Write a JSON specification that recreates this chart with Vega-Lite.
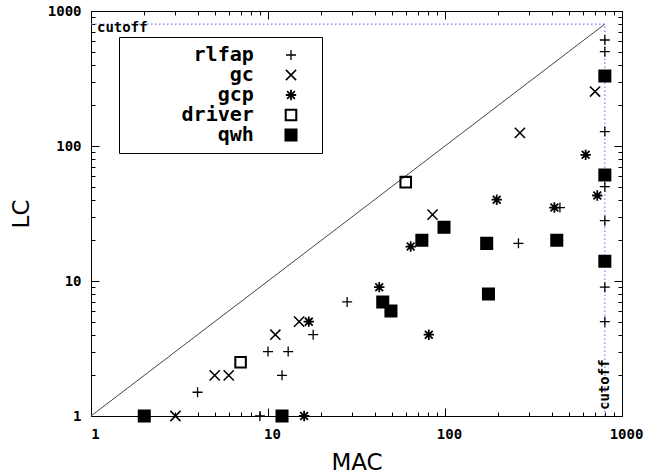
{
  "$schema": "https://vega.github.io/schema/vega-lite/v6.json",
  "autosize": {"type": "none"},
  "padding": {"left": 91, "top": 11, "right": 25, "bottom": 60},
  "width": 531,
  "height": 405,
  "background": "white",
  "config": {
    "view": {"stroke": "black", "strokeWidth": 1},
    "axis": {
      "grid": false, "domain": false, "tickColor": "black", "tickWidth": 1,
      "labelFont": "DejaVu Sans Mono", "labelFontWeight": "bold", "labelFontSize": 14, "labelColor": "black",
      "titleFont": "DejaVu Sans", "titleFontWeight": "normal", "titleFontSize": 23, "titleColor": "black",
      "labelOverlap": false, "labelFlush": false
    },
    "legend": {
      "labelFont": "DejaVu Sans Mono", "labelFontWeight": "bold", "labelFontSize": 20, "labelColor": "black", "labelAlign": "right",
      "strokeColor": "black", "padding": 8, "rowPadding": -3, "symbolOffset": 154, "labelOffset": 13, "labelLimit": 400
    }
  },
  "datasets": {
    "points": [
      {"series": "rlfap", "MAC": 800, "LC": 610},
      {"series": "rlfap", "MAC": 800, "LC": 500},
      {"series": "rlfap", "MAC": 800, "LC": 128},
      {"series": "rlfap", "MAC": 800, "LC": 50},
      {"series": "rlfap", "MAC": 800, "LC": 28},
      {"series": "rlfap", "MAC": 800, "LC": 9},
      {"series": "rlfap", "MAC": 800, "LC": 5},
      {"series": "rlfap", "MAC": 446, "LC": 35},
      {"series": "rlfap", "MAC": 260, "LC": 19},
      {"series": "rlfap", "MAC": 28, "LC": 7},
      {"series": "rlfap", "MAC": 4, "LC": 1.5},
      {"series": "rlfap", "MAC": 10, "LC": 3},
      {"series": "rlfap", "MAC": 13, "LC": 3},
      {"series": "rlfap", "MAC": 12, "LC": 2},
      {"series": "rlfap", "MAC": 18, "LC": 4},
      {"series": "rlfap", "MAC": 9, "LC": 1},
      {"series": "gc", "MAC": 704, "LC": 253},
      {"series": "gc", "MAC": 265, "LC": 125},
      {"series": "gc", "MAC": 85, "LC": 31},
      {"series": "gc", "MAC": 3, "LC": 1},
      {"series": "gc", "MAC": 5, "LC": 2},
      {"series": "gc", "MAC": 6, "LC": 2},
      {"series": "gc", "MAC": 11, "LC": 4},
      {"series": "gc", "MAC": 15, "LC": 5},
      {"series": "gcp", "MAC": 623, "LC": 86},
      {"series": "gcp", "MAC": 196, "LC": 40},
      {"series": "gcp", "MAC": 415, "LC": 35},
      {"series": "gcp", "MAC": 725, "LC": 43},
      {"series": "gcp", "MAC": 64, "LC": 18},
      {"series": "gcp", "MAC": 42.5, "LC": 9},
      {"series": "gcp", "MAC": 81, "LC": 4},
      {"series": "gcp", "MAC": 16, "LC": 1},
      {"series": "gcp", "MAC": 17, "LC": 5},
      {"series": "driver", "MAC": 60, "LC": 54},
      {"series": "driver", "MAC": 7, "LC": 2.5},
      {"series": "qwh", "MAC": 800, "LC": 330},
      {"series": "qwh", "MAC": 800, "LC": 61},
      {"series": "qwh", "MAC": 800, "LC": 14},
      {"series": "qwh", "MAC": 98.7, "LC": 25},
      {"series": "qwh", "MAC": 74, "LC": 20},
      {"series": "qwh", "MAC": 172, "LC": 19},
      {"series": "qwh", "MAC": 428, "LC": 20},
      {"series": "qwh", "MAC": 176, "LC": 8},
      {"series": "qwh", "MAC": 44.5, "LC": 7},
      {"series": "qwh", "MAC": 49.5, "LC": 6},
      {"series": "qwh", "MAC": 2, "LC": 1},
      {"series": "qwh", "MAC": 12, "LC": 1}
    ],
    "cutoffH": [{"x": 1, "x2": 800, "y": 800}],
    "cutoffV": [{"x": 800, "y": 1, "y2": 800}],
    "diag": [{"x": 1, "y": 1}, {"x": 800, "y": 800}],
    "labelH": [{"x": 1, "y": 800, "label": "cutoff"}],
    "labelV": [{"x": 800, "y": 1, "label": "cutoff"}]
  },
  "resolve": {"axis": {"x": "independent", "y": "independent"}},
  "layer": [
    {
      "data": {"name": "cutoffH"},
      "mark": {"type": "rule", "color": "#7878ff", "strokeDash": [1.5, 2.5], "strokeWidth": 1.2},
      "encoding": {
        "x": {"field": "x", "type": "quantitative", "scale": {"type": "log", "domain": [1, 1000], "nice": false},
          "axis": {"orient": "bottom", "values": [1, 10, 100, 1000], "format": "d", "tickSize": -8, "labelPadding": 19, "labelOffset": 4, "title": "MAC", "titlePadding": 10}},
        "x2": {"field": "x2"},
        "y": {"field": "y", "type": "quantitative", "scale": {"type": "log", "domain": [1, 1000], "nice": false},
          "axis": {"orient": "left", "values": [1, 10, 100, 1000], "format": "d", "tickSize": -8, "labelPadding": 18, "title": "LC", "titlePadding": 14}}
      }
    },
    {
      "data": {"name": "cutoffV"},
      "mark": {"type": "rule", "color": "#7878ff", "strokeDash": [1.5, 2.5], "strokeWidth": 1.2},
      "encoding": {
        "x": {"field": "x", "type": "quantitative", "scale": {"type": "log", "domain": [1, 1000], "nice": false},
          "axis": {"orient": "top", "values": [1, 10, 100, 1000], "tickSize": -8, "labels": false, "title": null}},
        "y": {"field": "y", "type": "quantitative", "scale": {"type": "log", "domain": [1, 1000], "nice": false},
          "axis": {"orient": "right", "values": [1, 10, 100, 1000], "tickSize": -8, "labels": false, "title": null}},
        "y2": {"field": "y2"}
      }
    },
    {
      "data": {"name": "diag"},
      "mark": {"type": "line", "color": "#444444", "strokeWidth": 1},
      "encoding": {
        "x": {"field": "x", "type": "quantitative", "scale": {"type": "log", "domain": [1, 1000], "nice": false},
          "axis": {"orient": "bottom", "values": [2,3,4,5,6,7,8,9,20,30,40,50,60,70,80,90,200,300,400,500,600,700,800,900], "tickSize": -4, "labels": false, "title": null}},
        "y": {"field": "y", "type": "quantitative", "scale": {"type": "log", "domain": [1, 1000], "nice": false},
          "axis": {"orient": "left", "values": [2,3,4,5,6,7,8,9,20,30,40,50,60,70,80,90,200,300,400,500,600,700,800,900], "tickSize": -4, "labels": false, "title": null}}
      }
    },
    {
      "data": {"name": "points"},
      "mark": {"type": "point", "opacity": 1},
      "encoding": {
        "x": {"field": "MAC", "type": "quantitative", "scale": {"type": "log", "domain": [1, 1000], "nice": false},
          "axis": {"orient": "top", "values": [2,3,4,5,6,7,8,9,20,30,40,50,60,70,80,90,200,300,400,500,600,700,800,900], "tickSize": -4, "labels": false, "title": null}},
        "y": {"field": "LC", "type": "quantitative", "scale": {"type": "log", "domain": [1, 1000], "nice": false},
          "axis": {"orient": "right", "values": [2,3,4,5,6,7,8,9,20,30,40,50,60,70,80,90,200,300,400,500,600,700,800,900], "tickSize": -4, "labels": false, "title": null}},
        "shape": {"field": "series", "type": "nominal",
          "scale": {"domain": ["rlfap", "gc", "gcp", "driver", "qwh"],
            "range": ["M-1,0L1,0M0,-1L0,1", "M-1,-1L1,1M-1,1L1,-1", "M-1,0L1,0M0,-1L0,1M-0.75,-0.75L0.75,0.75M-0.75,0.75L0.75,-0.75", "square", "square"]},
          "legend": {"title": null, "orient": "none", "legendX": 28, "legendY": 26, "rowPadding": -3,
            "labelExpr": "datum.label + '\u00a0\u00a0\u00a0\u00a0\u00a0\u200b'"}},
        "stroke": {"field": "series", "type": "nominal",
          "scale": {"domain": ["rlfap", "gc", "gcp", "driver", "qwh"], "range": ["black", "black", "black", "black", "black"]},
          "legend": {"title": null, "orient": "none", "legendX": 28, "legendY": 26, "rowPadding": -3,
            "labelExpr": "datum.label + '\u00a0\u00a0\u00a0\u00a0\u00a0\u200b'"}},
        "fill": {"field": "series", "type": "nominal",
          "scale": {"domain": ["rlfap", "gc", "gcp", "driver", "qwh"], "range": ["transparent", "transparent", "transparent", "transparent", "black"]},
          "legend": {"title": null, "orient": "none", "legendX": 28, "legendY": 26, "rowPadding": -3,
            "labelExpr": "datum.label + '\u00a0\u00a0\u00a0\u00a0\u00a0\u200b'"}},
        "strokeWidth": {"field": "series", "type": "nominal",
          "scale": {"domain": ["rlfap", "gc", "gcp", "driver", "qwh"], "range": [1.3, 2.3, 2.3, 2.3, 1]},
          "legend": {"title": null, "orient": "none", "legendX": 28, "legendY": 26, "rowPadding": -3,
            "labelExpr": "datum.label + '\u00a0\u00a0\u00a0\u00a0\u00a0\u200b'"}},
        "size": {"field": "series", "type": "nominal",
          "scale": {"domain": ["rlfap", "gc", "gcp", "driver", "qwh"], "range": [100, 115, 160, 72, 100]},
          "legend": {"title": null, "orient": "none", "legendX": 28, "legendY": 26, "rowPadding": -3,
            "labelExpr": "datum.label + '\u00a0\u00a0\u00a0\u00a0\u00a0\u200b'"}}
      }
    },
    {
      "data": {"name": "labelH"},
      "mark": {"type": "text", "align": "left", "baseline": "alphabetic", "dx": 6, "dy": 8, "font": "DejaVu Sans Mono", "fontWeight": "bold", "fontSize": 14, "color": "black"},
      "encoding": {
        "x": {"field": "x", "type": "quantitative", "scale": {"type": "log", "domain": [1, 1000], "nice": false}, "axis": null},
        "y": {"field": "y", "type": "quantitative", "scale": {"type": "log", "domain": [1, 1000], "nice": false}, "axis": null},
        "text": {"field": "label"}
      }
    },
    {
      "data": {"name": "labelV"},
      "mark": {"type": "text", "align": "left", "baseline": "middle", "angle": 270, "dx": 6, "font": "DejaVu Sans Mono", "fontWeight": "bold", "fontSize": 14, "color": "black"},
      "encoding": {
        "x": {"field": "x", "type": "quantitative", "scale": {"type": "log", "domain": [1, 1000], "nice": false}, "axis": null},
        "y": {"field": "y", "type": "quantitative", "scale": {"type": "log", "domain": [1, 1000], "nice": false}, "axis": null},
        "text": {"field": "label"}
      }
    }
  ]
}
